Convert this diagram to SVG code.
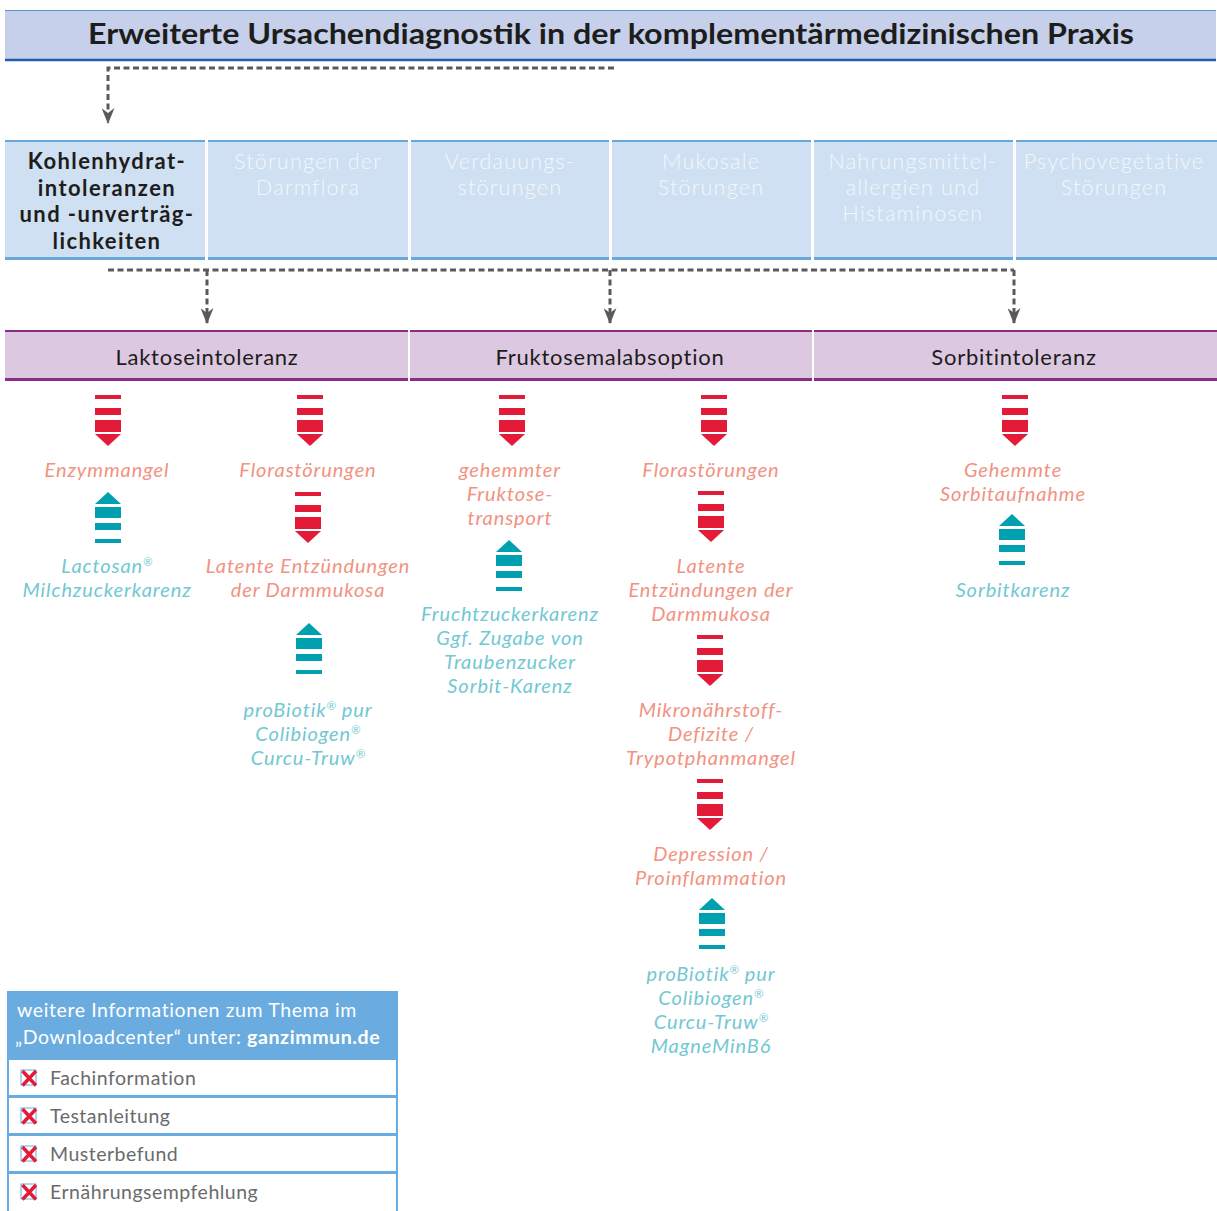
<svg xmlns="http://www.w3.org/2000/svg" width="1217" height="1211" viewBox="0 0 1217 1211">
<style>
.title{font-family:Lato,"Open Sans",sans-serif;font-weight:700;font-size:29px;fill:#1d1d1b;text-anchor:middle}
.cat{font-family:Lato,"Open Sans",sans-serif;font-weight:300;font-size:21.6px;fill:#f3f7fc;text-anchor:middle;letter-spacing:1.2px}
.catb{font-family:Lato,"Open Sans",sans-serif;font-weight:700;font-size:22px;fill:#1d1d1b;text-anchor:middle;letter-spacing:1.4px}
.sub{font-family:Lato,"Open Sans",sans-serif;font-size:22px;fill:#1d1d1b;text-anchor:middle;letter-spacing:0.75px}
.red{font-family:Lato,"Open Sans",sans-serif;font-style:italic;font-size:20px;fill:#f29282;text-anchor:middle;letter-spacing:0.9px}
.teal{font-family:Lato,"Open Sans",sans-serif;font-style:italic;font-size:20px;fill:#72c8d2;text-anchor:middle;letter-spacing:0.9px}
.info{font-family:Lato,"Open Sans",sans-serif;font-size:19.5px;fill:#ffffff;letter-spacing:0.6px}
.item{font-family:Lato,"Open Sans",sans-serif;font-size:19.5px;fill:#6b6b6b;letter-spacing:0.5px}
.conn{fill:none;stroke:#5a5a5a;stroke-width:3;stroke-dasharray:6 3.5}
.reg{font-size:11.5px;letter-spacing:0}
</style>
<defs>
<g id="down">
<rect x="-13" y="0" width="26" height="4" fill="#e31b38"/>
<rect x="-13" y="13" width="26" height="7" fill="#e31b38"/>
<rect x="-13" y="25" width="26" height="12" fill="#e31b38"/>
<path d="M-13,39 L13,39 L0,51 Z" fill="#e31b38"/>
</g>
<g id="up">
<path d="M0,0 L13,12 L-13,12 Z" fill="#00a0b0"/>
<rect x="-13" y="15" width="26" height="11" fill="#00a0b0"/>
<rect x="-13" y="31" width="26" height="7" fill="#00a0b0"/>
<rect x="-13" y="47" width="26" height="4" fill="#00a0b0"/>
</g>
<marker id="ah" viewBox="0 0 16 13" refX="15" refY="6.5" markerWidth="16" markerHeight="13" orient="auto" markerUnits="userSpaceOnUse">
<path d="M0,0 L5,6.5 L0,13 L16,6.5 Z" fill="#5a5a5a"/>
</marker>
<g id="chk">
<rect x="0" y="0" width="15" height="15" fill="#ffffff" stroke="#6aa8dc" stroke-width="1"/>
<path d="M1.5,1 L15,15.5 M15,1 L1.5,15.5" stroke="#e31b38" stroke-width="3.4"/>
</g>
</defs>

<g id="title">
<rect x="5" y="10" width="1211" height="50" fill="#c6d0ea"/>
<line x1="5" y1="10.5" x2="1216" y2="10.5" stroke="#5f8fd0" stroke-width="1"/>
<line x1="5" y1="60" x2="1216" y2="60" stroke="#1f5fa8" stroke-width="2.5"/>
<text class="title" x="611" y="44" textLength="1046" lengthAdjust="spacingAndGlyphs">Erweiterte Ursachendiagnostik in der komplementärmedizinischen Praxis</text>
</g>

<g id="connectors">
<path class="conn" d="M614,68 L108,68 L108,123" marker-end="url(#ah)"/>
<path class="conn" d="M108,270 L1014,270"/>
<path class="conn" d="M207,270 L207,323" marker-end="url(#ah)"/>
<path class="conn" d="M610,270 L610,323" marker-end="url(#ah)"/>
<path class="conn" d="M1014,270 L1014,323" marker-end="url(#ah)"/>
</g>

<g id="cat1">
<rect x="5" y="140" width="200" height="120" fill="#cfe0f2"/>
<rect x="5" y="140" width="200" height="2" fill="#6aa8dc"/>
<rect x="5" y="257" width="200" height="3" fill="#6aa8dc"/>
<text class="catb"><tspan x="107" y="169">Kohlenhydrat-</tspan><tspan x="107" y="195.5">intoleranzen</tspan><tspan x="107" y="222">und -unverträg-</tspan><tspan x="107" y="248.5">lichkeiten</tspan></text>
</g>
<g id="cat2">
<rect x="208" y="140" width="200" height="120" fill="#cfe0f2"/>
<rect x="208" y="140" width="200" height="2" fill="#6aa8dc"/>
<rect x="208" y="257" width="200" height="3" fill="#6aa8dc"/>
<text class="cat"><tspan x="308" y="169">Störungen der</tspan><tspan x="308" y="195">Darmflora</tspan></text>
</g>
<g id="cat3">
<rect x="411" y="140" width="198" height="120" fill="#cfe0f2"/>
<rect x="411" y="140" width="198" height="2" fill="#6aa8dc"/>
<rect x="411" y="257" width="198" height="3" fill="#6aa8dc"/>
<text class="cat"><tspan x="510" y="169">Verdauungs-</tspan><tspan x="510" y="195">störungen</tspan></text>
</g>
<g id="cat4">
<rect x="612" y="140" width="199" height="120" fill="#cfe0f2"/>
<rect x="612" y="140" width="199" height="2" fill="#6aa8dc"/>
<rect x="612" y="257" width="199" height="3" fill="#6aa8dc"/>
<text class="cat"><tspan x="711" y="169">Mukosale</tspan><tspan x="711" y="195">Störungen</tspan></text>
</g>
<g id="cat5">
<rect x="814" y="140" width="199" height="120" fill="#cfe0f2"/>
<rect x="814" y="140" width="199" height="2" fill="#6aa8dc"/>
<rect x="814" y="257" width="199" height="3" fill="#6aa8dc"/>
<text class="cat"><tspan x="913" y="169">Nahrungsmittel-</tspan><tspan x="913" y="195">allergien und</tspan><tspan x="913" y="221">Histaminosen</tspan></text>
</g>
<g id="cat6">
<rect x="1016" y="140" width="201" height="120" fill="#cfe0f2"/>
<rect x="1016" y="140" width="201" height="2" fill="#6aa8dc"/>
<rect x="1016" y="257" width="201" height="3" fill="#6aa8dc"/>
<text class="cat"><tspan x="1114" y="169">Psychovegetative</tspan><tspan x="1114" y="195">Störungen</tspan></text>
</g>

<g id="laktose">
<rect x="5" y="330" width="403" height="51" fill="#dcc8e1"/>
<rect x="5" y="330" width="403" height="2" fill="#8c2c87"/>
<rect x="5" y="378" width="403" height="3" fill="#8c2c87"/>
<text class="sub" x="207" y="365">Laktoseintoleranz</text>
</g>
<g id="fruktose">
<rect x="410" y="330" width="402" height="51" fill="#dcc8e1"/>
<rect x="410" y="330" width="402" height="2" fill="#8c2c87"/>
<rect x="410" y="378" width="402" height="3" fill="#8c2c87"/>
<text class="sub" x="610" y="365">Fruktosemalabsoption</text>
</g>
<g id="sorbit">
<rect x="814" y="330" width="403" height="51" fill="#dcc8e1"/>
<rect x="814" y="330" width="403" height="2" fill="#8c2c87"/>
<rect x="814" y="378" width="403" height="3" fill="#8c2c87"/>
<text class="sub" x="1014" y="365">Sorbitintoleranz</text>
</g>

<g id="col1">
<use href="#down" x="108" y="395"/>
<text class="red" x="107" y="477">Enzymmangel</text>
<use href="#up" x="108" y="492"/>
<text class="teal"><tspan x="107" y="573">Lactosan<tspan class="reg" baseline-shift="7">®</tspan></tspan><tspan x="107" y="597">Milchzuckerkarenz</tspan></text>
</g>

<g id="col2">
<use href="#down" x="310" y="395"/>
<text class="red" x="308" y="477">Florastörungen</text>
<use href="#down" x="308" y="492"/>
<text class="red"><tspan x="308" y="573">Latente Entzündungen</tspan><tspan x="308" y="597">der Darmmukosa</tspan></text>
<use href="#up" x="309" y="623"/>
<text class="teal"><tspan x="308" y="717">proBiotik<tspan class="reg" baseline-shift="7">®</tspan> pur</tspan><tspan x="308" y="741">Colibiogen<tspan class="reg" baseline-shift="7">®</tspan></tspan><tspan x="308" y="765">Curcu-Truw<tspan class="reg" baseline-shift="7">®</tspan></tspan></text>
</g>

<g id="col3">
<use href="#down" x="512" y="395"/>
<text class="red"><tspan x="510" y="477">gehemmter</tspan><tspan x="510" y="501">Fruktose-</tspan><tspan x="510" y="525">transport</tspan></text>
<use href="#up" x="509" y="540"/>
<text class="teal"><tspan x="510" y="621">Fruchtzuckerkarenz</tspan><tspan x="510" y="645">Ggf. Zugabe von</tspan><tspan x="510" y="669">Traubenzucker</tspan><tspan x="510" y="693">Sorbit-Karenz</tspan></text>
</g>

<g id="col4">
<use href="#down" x="714" y="395"/>
<text class="red" x="711" y="477">Florastörungen</text>
<use href="#down" x="711" y="491"/>
<text class="red"><tspan x="711" y="573">Latente</tspan><tspan x="711" y="597">Entzündungen der</tspan><tspan x="711" y="621">Darmmukosa</tspan></text>
<use href="#down" x="710" y="635"/>
<text class="red"><tspan x="711" y="717">Mikronährstoff-</tspan><tspan x="711" y="741">Defizite /</tspan><tspan x="711" y="765">Trypotphanmangel</tspan></text>
<use href="#down" x="710" y="779"/>
<text class="red"><tspan x="711" y="861">Depression /</tspan><tspan x="711" y="885">Proinflammation</tspan></text>
<use href="#up" x="712" y="898"/>
<text class="teal"><tspan x="711" y="981">proBiotik<tspan class="reg" baseline-shift="7">®</tspan> pur</tspan><tspan x="711" y="1005">Colibiogen<tspan class="reg" baseline-shift="7">®</tspan></tspan><tspan x="711" y="1029">Curcu-Truw<tspan class="reg" baseline-shift="7">®</tspan></tspan><tspan x="711" y="1053">MagneMinB6</tspan></text>
</g>

<g id="col5">
<use href="#down" x="1015" y="395"/>
<text class="red"><tspan x="1013" y="477">Gehemmte</tspan><tspan x="1013" y="501">Sorbitaufnahme</tspan></text>
<use href="#up" x="1012" y="514"/>
<text class="teal" x="1013" y="597">Sorbitkarenz</text>
</g>

<g id="infobox">
<rect x="7" y="991" width="391" height="68" fill="#6aace0"/>
<text class="info"><tspan x="17" y="1017">weitere Informationen zum Thema im</tspan><tspan x="15" y="1044">„Downloadcenter“ unter: <tspan font-weight="700">ganzimmun.de</tspan></tspan></text>
<rect x="8" y="1059" width="389" height="37" fill="#ffffff" stroke="#6aace0" stroke-width="2"/>
<rect x="8" y="1097" width="389" height="37" fill="#ffffff" stroke="#6aace0" stroke-width="2"/>
<rect x="8" y="1135" width="389" height="37" fill="#ffffff" stroke="#6aace0" stroke-width="2"/>
<rect x="8" y="1173" width="389" height="40" fill="#ffffff" stroke="#6aace0" stroke-width="2"/>
<use href="#chk" x="21" y="1070"/>
<use href="#chk" x="21" y="1108"/>
<use href="#chk" x="21" y="1146"/>
<use href="#chk" x="21" y="1184"/>
<text class="item" x="50" y="1085">Fachinformation</text>
<text class="item" x="50" y="1123">Testanleitung</text>
<text class="item" x="50" y="1161">Musterbefund</text>
<text class="item" x="50" y="1199">Ernährungsempfehlung</text>
</g>
</svg>
